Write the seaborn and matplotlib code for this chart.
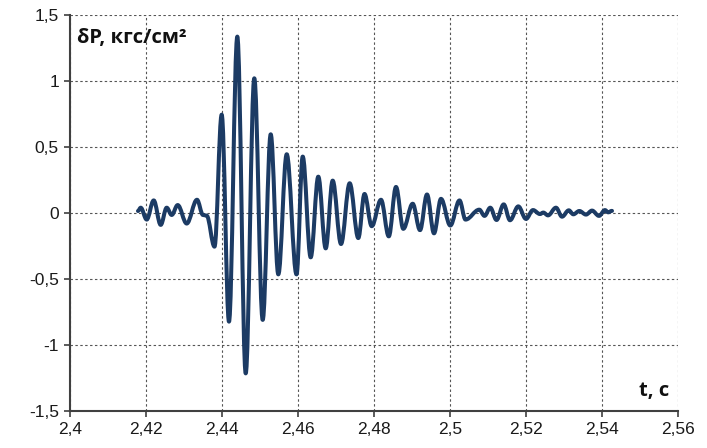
import numpy as np
import pandas as pd
import seaborn as sns
import matplotlib
matplotlib.use("Agg")
import matplotlib.pyplot as plt
from matplotlib.ticker import FuncFormatter
from matplotlib.path import Path
from matplotlib.patches import PathPatch

# точки сигнала (экстремумы)
t = [2.41789, 2.41861, 2.42018, 2.42203, 2.42387, 2.42545, 2.42676, 2.42834,
     2.43071, 2.43342, 2.43500, 2.43597, 2.43803, 2.43992, 2.44184, 2.44403,
     2.44624, 2.44850, 2.45071, 2.45282, 2.45482, 2.45703, 2.45961, 2.46124,
     2.46334, 2.46534, 2.46729, 2.46913, 2.47132, 2.47360, 2.47587, 2.47750,
     2.47940, 2.48184, 2.48389, 2.48579, 2.48771, 2.49018, 2.49211, 2.49395,
     2.49579, 2.49763, 2.50008, 2.50250, 2.50408, 2.50771, 2.50908, 2.51060,
     2.51224, 2.51413, 2.51579, 2.51797, 2.52000, 2.52184, 2.52368, 2.52455,
     2.52579, 2.52789, 2.52947, 2.53126, 2.53245, 2.53403, 2.53579, 2.53737,
     2.53921, 2.54079, 2.54158, 2.54263]
dp = [0.015, 0.04, -0.05, 0.095, -0.09, 0.04, -0.015, 0.06,
      -0.08, 0.10, -0.015, -0.02, -0.255, 0.745, -0.823, 1.336,
      -1.215, 1.02, -0.81, 0.596, -0.465, 0.445, -0.465, 0.427,
      -0.336, 0.275, -0.268, 0.245, -0.235, 0.225, -0.19, 0.144,
      -0.10, 0.10, -0.177, 0.197, -0.12, 0.07, -0.13, 0.14,
      -0.154, 0.107, -0.095, 0.095, -0.05, 0.025, -0.022, 0.04,
      -0.053, 0.065, -0.055, 0.05, -0.045, 0.022, -0.008, 0.003,
      -0.018, 0.04, -0.028, 0.02, -0.01, 0.015, -0.012, 0.018,
      -0.022, 0.022, 0.005, 0.016]

x_ticks = [2.40, 2.42, 2.44, 2.46, 2.48, 2.50, 2.52, 2.54, 2.56]
y_ticks = [-1.5, -1.0, -0.5, 0.0, 0.5, 1.0, 1.5]

df = pd.DataFrame({"t": t, "dP": dp})

sns.set_theme(style="white")
plt.rcParams["font.family"] = ["Liberation Sans", "DejaVu Sans"]

fig = plt.figure(figsize=(7.07, 4.48), dpi=100)
ax = fig.add_axes([0.099, 0.0826, 0.86, 0.884])

cor = "#1c3b64"
sns.lineplot(data=df, x="t", y="dP", ax=ax, color=cor, linewidth=2.9)

# экстремумы соединяем плавными кривыми Безье (горизонтальная касательная в экстремуме)
line = ax.lines[0]
xs, ys = np.asarray(line.get_xdata()), np.asarray(line.get_ydata())
k = 0.364
verts = [(xs[0], ys[0])]
codes = [Path.MOVETO]
for i in range(len(xs) - 1):
    dx = xs[i + 1] - xs[i]
    verts += [(xs[i] + k * dx, ys[i]), (xs[i + 1] - k * dx, ys[i + 1]), (xs[i + 1], ys[i + 1])]
    codes += [Path.CURVE4] * 3
ax.add_patch(PathPatch(Path(verts, codes), facecolor="none", edgecolor=cor,
                       linewidth=2.9, joinstyle="round", capstyle="round", zorder=3))
line.remove()

ax.set_xlim(2.40, 2.56)
ax.set_ylim(-1.5, 1.5)
ax.set_xticks(x_ticks)
ax.set_yticks(y_ticks)
fmt = FuncFormatter(lambda v, pos: f"{v:g}".replace(".", ","))
ax.xaxis.set_major_formatter(fmt)
ax.yaxis.set_major_formatter(fmt)

ax.grid(True, color="#555555", linestyle=(0, (2.2, 2.2)), linewidth=0.8)
ax.set_axisbelow(True)
for s in ["top", "right"]:
    ax.spines[s].set_visible(False)
for s in ["left", "bottom"]:
    ax.spines[s].set_color("#404040")
    ax.spines[s].set_linewidth(1.5)

ax.tick_params(axis="both", direction="out", length=4, width=1.2,
               color="#404040", labelsize=12.5, labelcolor="#1a1a1a", pad=4)
ax.tick_params(axis="x", bottom=True)
ax.tick_params(axis="y", left=True)

ax.set_xlabel("")
ax.set_ylabel("")
ax.text(0.012, 0.943, "δP, кгс/см²", transform=ax.transAxes, fontsize=14.5,
        fontweight="bold", family=["Open Sans", "DejaVu Sans"], color="#111111",
        ha="left", va="center")
ax.text(0.985, 0.05, "t, с", transform=ax.transAxes, fontsize=14.5,
        fontweight="bold", family=["Open Sans", "DejaVu Sans"], color="#111111",
        ha="right", va="center")

fig.savefig("out.png", dpi=100, facecolor="white")
